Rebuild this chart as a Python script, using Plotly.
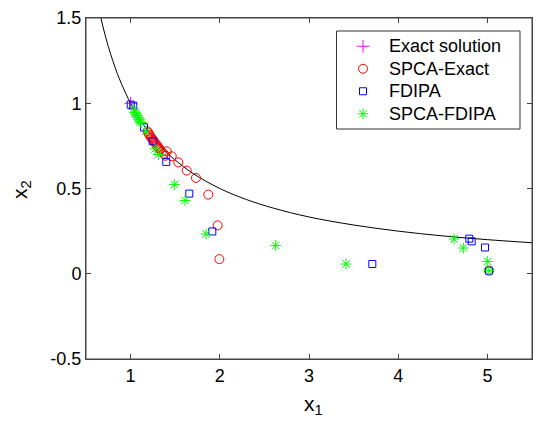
import plotly.graph_objects as go

# Constraint curve x1*x2 = 1
curve_x = [0.667, 0.7, 0.75, 0.8, 0.85, 0.9, 0.95, 1.0, 1.1, 1.2, 1.3, 1.4, 1.5, 1.7, 2.0, 2.3, 2.6, 3.0, 3.5, 4.0, 4.5, 5.0, 5.5]
curve_y = [1.5, 1.429, 1.333, 1.25, 1.176, 1.111, 1.053, 1.0, 0.909, 0.833, 0.769, 0.714, 0.667, 0.588, 0.5, 0.435, 0.385, 0.333, 0.286, 0.25, 0.222, 0.2, 0.182]

exact_x = [1.0]
exact_y = [1.0]

spca_exact_x = [1.19, 1.20, 1.21, 1.22, 1.23, 1.24, 1.25, 1.26, 1.27, 1.28, 1.29, 1.30, 1.31, 1.32, 1.33, 1.35, 1.37, 1.39,
                1.405, 1.461, 1.535, 1.629, 1.733, 1.871, 1.976, 1.995, 5.018]
spca_exact_y = [0.835, 0.825, 0.815, 0.808, 0.80, 0.793, 0.785, 0.778, 0.77, 0.763, 0.756, 0.749, 0.742, 0.735, 0.728, 0.716, 0.704, 0.692,
                0.718, 0.689, 0.653, 0.605, 0.562, 0.464, 0.284, 0.086, 0.018]

fdipa_x = [1.001, 1.030, 1.15, 1.248, 1.40, 1.658, 1.916, 3.71, 4.797, 4.824, 4.973, 5.018]
fdipa_y = [0.992, 0.986, 0.859, 0.777, 0.656, 0.470, 0.248, 0.057, 0.206, 0.190, 0.154, 0.018]

spca_fdipa_x = [1.027, 1.049, 1.06, 1.072, 1.083, 1.094, 1.105, 1.117, 1.169, 1.274, 1.311, 1.49, 1.61, 1.845, 2.627, 3.415, 4.626, 4.73, 4.999, 5.018]
spca_fdipa_y = [0.963, 0.945, 0.937, 0.928, 0.916, 0.904, 0.895, 0.887, 0.836, 0.732, 0.699, 0.523, 0.430, 0.233, 0.166, 0.057, 0.204, 0.151, 0.072, 0.018]

series_names = ["Exact solution", "SPCA-Exact", "FDIPA", "SPCA-FDIPA"]

x_ticks = [1, 2, 3, 4, 5]
y_ticks = [-0.5, 0, 0.5, 1, 1.5]
y_tick_text = ["-0.5", "0", "0.5", "1", "1.5"]

FONT = "Liberation Sans, Arial, Helvetica, sans-serif"
AX = "#444444"


def lg(name):
    return '<span style="font-size:18px">' + name + '</span>'


fig = go.Figure()
fig.add_trace(go.Scatter(x=curve_x, y=curve_y, mode="lines", line=dict(color="black", width=1, shape="spline"),
                         showlegend=False, hoverinfo="skip"))
fig.add_trace(go.Scatter(x=exact_x, y=exact_y, mode="markers", name=lg(series_names[0]),
                         marker=dict(symbol="cross-thin-open", size=9, line=dict(color="#ff00ff", width=1), color="#ff00ff")))
fig.add_trace(go.Scatter(x=spca_exact_x, y=spca_exact_y, mode="markers", name=lg(series_names[1]),
                         marker=dict(symbol="circle-open", size=9, line=dict(color="#ff0000", width=1), color="#ff0000")))
fig.add_trace(go.Scatter(x=fdipa_x, y=fdipa_y, mode="markers", name=lg(series_names[2]),
                         marker=dict(symbol="square-open", size=7, line=dict(color="#0000ff", width=1), color="#0000ff")))
fig.add_trace(go.Scatter(x=spca_fdipa_x, y=spca_fdipa_y, mode="markers", name=lg(series_names[3]),
                         marker=dict(symbol="asterisk-open", size=9, line=dict(color="#00ff00", width=1), color="#00ff00")))

axis_common = dict(showgrid=False, zeroline=False, showline=True, linecolor=AX, linewidth=1,
                   mirror="ticks", ticks="inside", ticklen=5, tickcolor=AX, automargin=False,
                   tickfont=dict(family=FONT, size=18, color="black"))

fig.update_xaxes(range=[0.5, 5.5], tickvals=x_ticks, ticktext=[str(v) for v in x_ticks], **axis_common)
fig.update_yaxes(range=[-0.5, 1.5], tickvals=y_ticks, ticktext=y_tick_text, **axis_common)

# plot area in pixels: x 86..532, y 18..359
L, R, T, B = 86, 532, 18, 359
def px(xp):
    return (xp - L) / (R - L)
def py(yp):
    return (B - yp) / (B - T)

fig.add_shape(type="rect", xref="paper", yref="paper", x0=0, x1=1, y0=0, y1=1,
              line=dict(color=AX, width=1), layer="above")
# legend box
fig.add_shape(type="rect", xref="paper", yref="paper", x0=px(336.5), x1=px(520), y0=py(129), y1=py(31),
              line=dict(color="#333333", width=1), fillcolor="white", layer="above")

fig.add_annotation(text="x<sub>1</sub>", xref="paper", yref="paper", x=px(313), y=py(405),
                   xanchor="center", yanchor="middle", showarrow=False,
                   font=dict(family=FONT, size=21, color="black"))
fig.add_annotation(text="x<sub>2</sub>", xref="paper", yref="paper", x=px(21), y=py(190),
                   xanchor="center", yanchor="middle", showarrow=False, textangle=-90,
                   font=dict(family=FONT, size=21, color="black"))

fig.update_layout(
    width=536, height=422,
    margin=dict(l=L, r=536 - R, t=T, b=422 - B),
    plot_bgcolor="white", paper_bgcolor="white",
    font=dict(family=FONT, size=14, color="black"),
    legend=dict(x=px(337), y=py(30), xanchor="left", yanchor="top",
                borderwidth=0, bgcolor="rgba(0,0,0,0)",
                font=dict(family=FONT, size=15, color="black"),
                itemwidth=42, tracegroupgap=0),
)

fig.write_html("out.html", config={"displayModeBar": False},
               post_script="document.body.style.margin='0';document.body.style.overflow='hidden';")
